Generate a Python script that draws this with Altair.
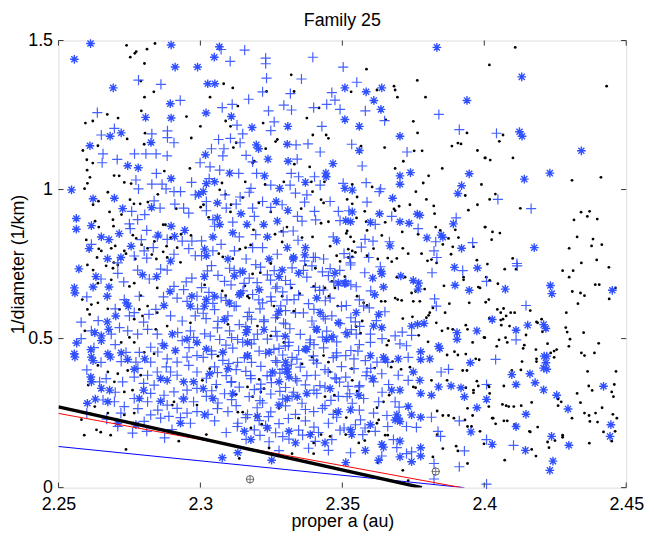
import altair as alt
import pandas as pd

TITLE = "Family 25"
X_LABEL = "proper a (au)"
Y_LABEL = "1/diameter (1/km)"
X_TICKS = [2.25, 2.3, 2.35, 2.4, 2.45]
Y_TICKS = [0, 0.5, 1, 1.5]
X_DOMAIN = [2.25, 2.45]
Y_DOMAIN = [0, 1.5]

# ---------------- black dots ----------------
dots_a_top = [(2.2740,1.484),(2.2774,1.463),(2.2769,1.457),(2.2753,1.444),(2.2812,1.471),(2.2840,1.490),(2.2803,1.423),
 (2.2790,1.364),(2.2836,1.328),(2.2803,1.310),(2.2792,1.264),(2.2951,1.245),(2.2672,1.252),(2.2710,1.240),(2.2621,1.230),
 (2.2595,1.223),(2.2805,1.189),(2.2742,1.170),(2.2968,1.173),(2.2802,1.152),(2.2639,1.147),(2.2586,1.131),(2.2600,1.100),
 (2.2621,1.089),(2.2601,1.065),(2.2611,1.041),(2.2602,1.021),(2.2592,1.003),(2.2696,1.047),(2.2714,1.046),(2.2732,1.024),
 (2.2756,1.020),(2.2873,1.062),(2.2963,1.071),(2.2674,0.991),(2.2641,0.961),(2.2622,0.949),(2.2752,0.966),(2.2766,0.952),
 (2.2788,0.952),(2.2815,0.958),(2.2850,0.984),(2.2915,0.936),(2.2680,0.925),(2.2692,0.899),(2.2722,0.916),(2.2629,0.894),
 (2.2642,0.874),(2.2694,0.877),(2.2869,0.882),(2.2877,0.882),(2.2762,0.847),(2.2598,0.831),(2.2642,0.801),(2.2651,0.794),
 (2.2686,0.803),(2.2700,0.811),(2.2732,0.794),(2.2738,0.785),(2.2774,0.836),(2.2793,0.815),(2.2838,0.826),(2.2881,0.810),
 (2.2869,0.791),(2.2845,0.767),(2.2883,0.772),(2.2930,0.756),(2.2895,0.839),(2.2932,0.850),(2.2918,0.805),(2.2967,0.846),
 (2.2636,0.772),(2.2695,0.755),(2.2771,0.767),(2.2829,0.782),(2.2814,0.803)]
dots_a_bottom = [(2.2602,0.747),(2.2622,0.730),(2.2668,0.744),(2.2692,0.736),(2.2709,0.747),(2.2686,0.697),(2.2750,0.675),
 (2.2639,0.686),(2.2584,0.631),(2.2616,0.614),(2.2639,0.620),(2.2674,0.600),(2.2602,0.598),(2.2610,0.581),(2.2767,0.686),
 (2.2790,0.644),(2.2848,0.670),(2.2814,0.609),(2.2785,0.598),(2.2796,0.576),(2.2848,0.587),(2.2715,0.598),(2.2767,0.565),
 (2.2593,0.526),(2.2721,0.487),(2.2767,0.487),(2.2802,0.454),(2.2837,0.449),(2.2750,0.504),(2.2843,0.531),(2.2639,0.410),
 (2.2674,0.388),(2.2709,0.382),(2.2744,0.393),(2.2790,0.377),(2.2697,0.355),(2.2761,0.327),(2.2732,0.321),(2.2605,0.344),
 (2.2628,0.272),(2.2674,0.250),(2.2732,0.244),(2.2767,0.250),(2.2901,0.277),(2.2907,0.288),(2.2581,0.228),(2.2591,0.176),
 (2.2634,0.194),(2.2649,0.186),(2.2684,0.176),(2.2738,0.128),(2.2924,0.156),(2.2988,0.277),(2.2965,0.553),(2.2883,0.542)]
dots_b_top = [(2.3320,1.385),(2.3233,1.329),(2.3330,1.329),(2.3082,1.355),(2.3114,1.341),(2.3034,1.310),(2.3132,1.280),
 (2.3418,1.274),(2.3375,1.240),(2.3089,1.230),(2.3106,1.212),(2.3221,1.223),(2.3000,1.212),(2.3396,1.183),(2.3443,1.183),
 (2.3451,1.172),(2.3271,1.168),(2.3265,1.161),(2.3126,1.157),(2.3116,1.141),(2.3230,1.137),(2.3190,1.095),(2.3184,1.089),
 (2.3331,1.085),(2.3385,1.076),(2.3158,1.026),(2.3228,1.017),(2.3294,1.026),(2.3391,1.026),(2.3437,1.026),(2.3076,1.022),
 (2.3068,0.999),(2.3089,0.984),(2.3149,0.973),(2.3206,0.955),(2.3395,0.993),(2.3425,0.966),(2.3434,0.955),(2.3011,0.949),
 (2.3001,0.941),(2.3108,0.949),(2.3106,0.925),(2.3029,0.907),(2.3248,0.925),(2.3355,0.936),(2.3425,0.887),(2.3451,0.892),
 (2.3305,0.874),(2.3187,0.865),(2.3263,0.850),(2.3286,0.860),(2.3395,0.841),(2.3288,0.824),(2.3457,0.810),(2.3139,0.800),
 (2.3159,0.805),(2.3177,0.814),(2.3065,0.785),(2.3079,0.774),(2.3114,0.768),(2.3248,0.752),(2.3480,0.778),(2.3492,0.759),
 (2.3358,0.839)]
dots_b_bottom = [(2.3184,0.717),(2.3211,0.721),(2.3157,0.677),(2.3166,0.642),(2.3172,0.636),(2.3089,0.644),(2.3077,0.660),
 (2.3015,0.680),(2.3370,0.747),(2.3405,0.736),(2.3321,0.670),(2.3350,0.651),(2.3399,0.675),(2.3439,0.670),(2.3463,0.692),
 (2.3474,0.670),(2.3484,0.609),(2.3453,0.642),(2.3288,0.642),(2.3259,0.609),(2.3329,0.592),(2.3271,0.570),(2.3201,0.542),
 (2.3097,0.548),(2.3248,0.509),(2.3294,0.487),(2.3405,0.526),(2.3434,0.443),(2.3410,0.426),(2.3451,0.421),(2.3393,0.438),
 (2.3358,0.415),(2.3457,0.388),(2.3062,0.441),(2.3033,0.399),(2.3007,0.360),(2.3056,0.338),(2.3166,0.338),(2.3207,0.363),
 (2.3224,0.332),(2.3184,0.305),(2.3213,0.321),(2.3126,0.313),(2.3149,0.253),(2.3195,0.239),(2.3216,0.213),(2.3178,0.200),
 (2.3277,0.266),(2.3346,0.233),(2.3391,0.183),(2.3425,0.178),(2.3439,0.305),(2.3472,0.310),(2.3474,0.255),(2.3457,0.172),
 (2.3399,0.150),(2.3242,0.133),(2.3323,0.114),(2.3399,0.114),(2.3137,0.098),(2.3021,0.178),(2.3132,0.253)]
dots_c_top = [(2.3585,1.404),(2.3764,1.366),(2.3682,1.347),(2.3686,1.334),(2.3622,1.334),(2.3531,1.328),(2.3694,1.310),
 (2.3793,1.310),(2.3653,1.234),(2.3750,1.229),(2.3765,1.190),(2.3939,1.190),(2.3566,1.146),(2.3649,1.141),(2.3753,1.130),
 (2.3781,1.130),(2.3886,1.146),(2.3907,1.156),(2.3918,1.153),(2.3976,1.131),(2.3715,1.095),(2.4002,1.106),(2.3686,1.071),
 (2.3852,1.071),(2.3804,1.046),(2.3785,1.022),(2.3605,1.009),(2.3535,1.017),(2.3759,0.993),(2.3552,0.975),(2.3517,0.967),
 (2.3933,0.980),(2.3535,0.952),(2.3990,1.017),(2.3700,0.944),(2.3738,0.949),(2.3796,0.967),(2.3682,0.935),(2.3686,0.929),
 (2.3579,0.927),(2.3822,0.945),(2.3825,0.919),(2.3976,0.949),(2.3944,0.931),(2.3550,0.905),(2.3651,0.890),(2.3584,0.892),
 (2.3517,0.861),(2.3514,0.853),(2.3529,0.841),(2.3587,0.863),(2.3639,0.846),(2.3711,0.858),(2.3767,0.850),(2.3829,0.874),
 (2.3845,0.863),(2.3898,0.865),(2.3909,0.839),(2.3874,0.836),(2.4002,0.874),(2.3541,0.825),(2.3521,0.800),(2.3535,0.794),
 (2.3546,0.789),(2.3610,0.802),(2.3587,0.778),(2.3521,0.772),(2.3535,0.774),(2.3625,0.767),(2.3660,0.770),(2.3674,0.758),
 (2.3713,0.803),(2.3692,0.769),(2.3732,0.785),(2.3779,0.785),(2.3800,0.761),(2.3814,0.765),(2.3854,0.816),(2.3883,0.783),
 (2.3889,0.808),(2.3962,0.808),(2.3974,0.763),(2.3832,0.754)]
dots_c_bottom = [(2.3509,0.708),(2.3692,0.706),(2.3721,0.706),(2.3758,0.658),(2.3744,0.653),(2.3790,0.666),(2.3686,0.636),
 (2.3695,0.631),(2.3651,0.625),(2.3637,0.625),(2.3709,0.628),(2.3750,0.625),(2.3773,0.625),(2.3552,0.642),(2.3575,0.620),
 (2.3587,0.611),(2.3858,0.677),(2.3927,0.706),(2.3927,0.697),(2.3979,0.673),(2.3985,0.670),(2.3819,0.603),(2.3808,0.587),
 (2.3804,0.578),(2.3877,0.617),(2.3947,0.620),(2.3862,0.587),(2.3713,0.567),(2.3747,0.573),(2.3796,0.570),(2.3831,0.553),
 (2.3851,0.526),(2.3872,0.534),(2.3889,0.531),(2.3935,0.545),(2.3941,0.531),(2.3999,0.504),(2.3570,0.559),(2.3549,0.540),
 (2.3564,0.518),(2.3663,0.493),(2.3657,0.478),(2.3769,0.511),(2.3802,0.489),(2.3959,0.487),(2.3869,0.445),(2.3895,0.456),
 (2.3907,0.445),(2.3935,0.448),(2.3970,0.432),(2.3982,0.429),(2.3677,0.423),(2.3672,0.404),(2.3707,0.397),(2.3738,0.404),
 (2.3533,0.399),(2.3614,0.401),(2.3924,0.393),(2.3939,0.393),(2.3974,0.357),(2.3979,0.341),(2.3869,0.360),(2.3814,0.360),
 (2.3750,0.338),(2.3758,0.335),(2.3935,0.335),(2.3962,0.327),(2.3962,0.318),(2.3535,0.360),(2.3552,0.324),(2.3665,0.310),
 (2.3622,0.268),(2.3645,0.288),(2.3834,0.257),(2.3854,0.242),(2.3874,0.242),(2.3893,0.233),(2.3941,0.266),(2.3932,0.227),
 (2.3959,0.242),(2.3985,0.189),(2.3941,0.205),(2.3955,0.205),(2.3628,0.227),(2.3622,0.216),(2.3593,0.189),(2.3651,0.176),
 (2.3660,0.176),(2.3579,0.158),(2.3558,0.150),(2.3834,0.178),(2.3854,0.131),(2.3901,0.139),(2.3907,0.123),(2.3999,0.147),
 (2.3941,0.081),(2.3625,0.084),(2.3713,0.058),(2.3732,0.023),(2.3819,0.103),(2.3512,0.178),(2.3514,0.235)]
dots_d_top = [(2.4109,1.477),(2.4018,1.418),(2.4431,1.347),(2.4066,1.183),(2.4053,1.162),(2.4004,1.106),(2.4021,1.099),
 (2.4101,1.106),(2.4309,1.031),(2.4411,1.041),(2.4039,0.985),(2.4019,0.967),(2.4127,0.937),(2.4341,0.924),(2.4371,0.927),
 (2.4363,0.910),(2.4316,0.898),(2.4398,0.901),(2.4004,0.874),(2.4029,0.858),(2.4055,0.854),(2.4026,0.832),(2.4327,0.841),
 (2.4383,0.834),(2.4299,0.803),(2.4378,0.811),(2.4414,0.815),(2.4100,0.769),(2.4396,0.764),(2.4342,0.754)]
dots_d_bottom = [(2.4072,0.733),(2.4112,0.733),(2.4276,0.728),(2.4313,0.728),(2.4299,0.706),(2.4439,0.739),(2.4391,0.681),
 (2.4405,0.681),(2.4462,0.670),(2.4440,0.633),(2.4310,0.658),(2.4339,0.653),(2.4353,0.644),(2.4330,0.617),(2.4289,0.587),
 (2.4007,0.706),(2.4019,0.695),(2.4048,0.684),(2.4005,0.622),(2.4016,0.631),(2.4046,0.598),(2.4058,0.587),(2.4077,0.576),
 (2.4093,0.587),(2.4107,0.587),(2.4068,0.601),(2.4058,0.562),(2.4066,0.565),(2.4060,0.545),(2.4089,0.542),(2.4018,0.569),
 (2.4162,0.594),(2.4184,0.556),(2.4188,0.553),(2.4202,0.565),(2.4205,0.523),(2.4147,0.512),(2.4141,0.478),(2.4137,0.467),
 (2.4223,0.483),(2.4182,0.463),(2.4184,0.432),(2.4184,0.423),(2.4246,0.458),(2.4255,0.463),(2.4234,0.452),(2.4246,0.437),
 (2.4287,0.537),(2.4292,0.522),(2.4350,0.520),(2.4302,0.498),(2.4298,0.474),(2.4403,0.484),(2.4388,0.452),(2.4342,0.452),
 (2.4353,0.443),(2.4052,0.496),(2.4075,0.503),(2.4081,0.487),(2.4044,0.474),(2.4002,0.503),(2.4133,0.423),(2.4097,0.393),
 (2.4129,0.395),(2.4364,0.390),(2.4464,0.390),(2.4458,0.346),(2.4449,0.321),(2.4455,0.305),(2.4368,0.341),(2.4380,0.326),
 (2.4327,0.316),(2.4339,0.285),(2.4260,0.297),(2.4271,0.288),(2.4260,0.275),(2.4014,0.344),(2.4017,0.338),(2.4069,0.341),
 (2.4019,0.316),(2.4016,0.272),(2.4064,0.279),(2.4077,0.275),(2.4086,0.272),(2.4104,0.272),(2.4130,0.275),(2.4167,0.286),
 (2.4028,0.233),(2.4031,0.233),(2.4040,0.214),(2.4069,0.224),(2.4081,0.224),(2.4107,0.211),(2.4159,0.189),(2.4162,0.187),
 (2.4188,0.203),(2.4223,0.153),(2.4249,0.158),(2.4276,0.176),(2.4276,0.169),(2.4228,0.134),(2.4309,0.233),(2.4353,0.250),
 (2.4369,0.242),(2.4392,0.250),(2.4372,0.222),(2.4399,0.220),(2.4415,0.268),(2.4453,0.246),(2.4467,0.233),(2.4420,0.187),
 (2.4449,0.156),(2.4461,0.189),(2.4370,0.149),(2.4167,0.128),(2.4182,0.106),(2.4072,0.092),(2.4011,0.750)]

# ---------------- blue plus markers ----------------
plus_a_top = [(2.2782,1.367),(2.2861,1.353),(2.2929,1.299),(2.2637,1.258),(2.2697,1.205),(2.2651,1.183),(2.2884,1.197),
 (2.2884,1.174),(2.2829,1.187),(2.2907,1.157),(2.2657,1.120),(2.2707,1.101),(2.2768,1.120),(2.2808,1.120),(2.2844,1.120),
 (2.2883,1.113),(2.2654,1.090),(2.2845,1.054),(2.2773,1.032),(2.2829,1.018),(2.2865,1.018),(2.2782,1.002),(2.2969,1.024),
 (2.2879,1.002),(2.2907,0.993),(2.2930,0.993),(2.2837,0.962),(2.2910,0.951),(2.2941,0.938),(2.2959,0.921),(2.2758,0.927),
 (2.2804,0.916),(2.2779,0.899),(2.2858,0.938),(2.2750,0.885),(2.2753,0.869),(2.2811,0.863),(2.2792,0.832),(2.2848,0.841),
 (2.2883,0.833),(2.2936,0.827),(2.2970,0.827),(2.2959,0.802),(2.2834,0.805),(2.2802,0.794),(2.2982,0.778),(2.2907,0.783),
 (2.2811,0.770),(2.2767,0.777),(2.2616,0.816),(2.2709,0.754),(2.2999,1.090),(2.2982,0.982)]
plus_a_bottom = [(2.2709,0.719),(2.2779,0.730),(2.2860,0.733),(2.2883,0.730),(2.2970,0.703),(2.2907,0.675),(2.2941,0.664),
 (2.2988,0.642),(2.2953,0.625),(2.2918,0.636),(2.2785,0.642),(2.2732,0.631),(2.2767,0.587),(2.2843,0.598),(2.2819,0.581),
 (2.2750,0.576),(2.2895,0.576),(2.2936,0.559),(2.2982,0.576),(2.2715,0.537),(2.2616,0.526),(2.2686,0.515),(2.2744,0.526),
 (2.2779,0.515),(2.2814,0.531),(2.2848,0.515),(2.2965,0.526),(2.2936,0.493),(2.2976,0.504),(2.2866,0.482),(2.2825,0.471),
 (2.2785,0.454),(2.2738,0.454),(2.2721,0.423),(2.2773,0.421),(2.2825,0.421),(2.2883,0.432),(2.2918,0.421),(2.2953,0.438),
 (2.2988,0.443),(2.2959,0.410),(2.2848,0.388),(2.2895,0.388),(2.2814,0.377),(2.2767,0.371),(2.2668,0.366),(2.2645,0.355),
 (2.2726,0.355),(2.2837,0.344),(2.2918,0.377),(2.2988,0.388),(2.2988,0.333),(2.2953,0.327),(2.2907,0.321),(2.2872,0.310),
 (2.2825,0.316),(2.2767,0.299),(2.2697,0.288),(2.2657,0.294),(2.2732,0.272),(2.2814,0.288),(2.2883,0.277),(2.2918,0.266),
 (2.2976,0.288),(2.2988,0.255),(2.2953,0.250),(2.2889,0.239),(2.2825,0.244),(2.2860,0.233),(2.2965,0.216),(2.2802,0.222),
 (2.2761,0.183),(2.2811,0.189),(2.2874,0.167),(2.2709,0.205),(2.2580,0.555),(2.2625,0.470),(2.2600,0.395)]
plus_a_extra = [(2.2650,0.700),(2.2730,0.690),(2.2820,0.700),(2.2950,0.690),(2.2600,0.640),(2.2700,0.600),(2.2870,0.640),
 (2.2990,0.600),(2.2640,0.560),(2.2800,0.555),(2.2920,0.520),(2.2580,0.500),(2.2700,0.480),(2.2850,0.455),(2.2960,0.470),
 (2.2650,0.420),(2.2780,0.400),(2.2880,0.405),(2.2700,0.320),(2.2800,0.350),(2.2940,0.300),(2.2850,0.260),(2.2720,0.250),
 (2.2930,0.235),(2.2600,0.250),(2.2670,0.230),(2.2780,0.265),(2.2900,0.195)]
plus_b_top = [(2.3073,1.470),(2.3156,1.468),(2.3105,1.430),(2.3230,1.441),(2.3230,1.422),(2.3396,1.444),(2.3233,1.374),
 (2.3356,1.371),(2.3219,1.328),(2.3317,1.322),(2.3170,1.303),(2.3463,1.325),(2.3474,1.300),(2.3077,1.275),(2.3112,1.286),
 (2.3294,1.283),(2.3321,1.267),(2.3240,1.264),(2.3399,1.275),(2.3445,1.286),(2.3492,1.269),(2.3129,1.216),(2.3260,1.227),
 (2.3428,1.212),(2.3248,1.198),(2.3149,1.187),(2.3106,1.172),(2.3140,1.157),(2.3064,1.168),(2.3083,1.137),(2.3337,1.150),
 (2.3379,1.153),(2.3422,1.126),(2.3079,1.113),(2.3039,1.137),(2.3161,1.115),(2.3184,1.093),(2.3341,1.102),(2.3034,1.076),
 (2.3068,1.065),(2.3135,1.054),(2.3198,1.054),(2.3320,1.054),(2.3346,1.043),(2.3402,1.043),(2.3031,1.037),(2.3178,1.004),
 (2.3248,1.015),(2.3316,1.015),(2.3422,1.015),(2.3375,0.982),(2.3172,0.991),(2.3087,0.982),(2.3140,0.975),(2.3335,0.988),
 (2.3457,0.960),(2.3021,0.960),(2.3126,0.951),(2.3219,0.960),(2.3367,0.958),(2.3288,0.949),(2.3021,0.929),(2.3091,0.938),
 (2.3184,0.938),(2.3248,0.940),(2.3402,0.927),(2.3342,0.910),(2.3486,0.927),(2.3190,0.910),(2.3406,0.898),(2.3492,0.896),
 (2.3358,0.894),(2.3044,0.899),(2.3114,0.891),(2.3050,0.877),(2.3327,0.861),(2.3292,0.858),(2.3195,0.849),(2.3137,0.841),
 (2.3073,0.816),(2.3004,0.828),(2.3468,0.841),(2.3184,0.805),(2.3219,0.805),(2.3120,0.794),(2.3044,0.794),(2.3271,0.783),
 (2.3344,0.830),(2.3405,0.772),(2.3434,0.767),(2.3367,0.761),(2.3161,0.767),(2.3004,0.778)]
plus_b_bottom = [(2.3039,0.745),(2.3103,0.736),(2.3195,0.748),(2.3323,0.737),(2.3393,0.744),(2.3457,0.735),
 (2.3062,0.712),(2.3172,0.703),(2.3236,0.714),(2.3375,0.706),(2.3451,0.711),
 (2.3004,0.671),(2.3108,0.680),(2.3265,0.669),(2.3317,0.682),(2.3405,0.672),(2.3486,0.679),
 (2.3073,0.637),(2.3184,0.648),(2.3248,0.640),(2.3346,0.646),(2.3457,0.636),
 (2.3044,0.618),(2.3126,0.609),(2.3219,0.620),(2.3283,0.610),(2.3381,0.617),(2.3497,0.608),
 (2.3010,0.585),(2.3097,0.576),(2.3172,0.588),(2.3271,0.579),(2.3335,0.586),(2.3463,0.576),
 (2.3062,0.558),(2.3137,0.547),(2.3224,0.557),(2.3300,0.549),(2.3393,0.559),(2.3492,0.550),
 (2.3015,0.516),(2.3103,0.526),(2.3201,0.515),(2.3265,0.524),(2.3352,0.514),(2.3445,0.525),
 (2.3068,0.497),(2.3149,0.488),(2.3236,0.498),(2.3312,0.487),(2.3387,0.496),(2.3480,0.489),
 (2.3039,0.459),(2.3114,0.468),(2.3207,0.458),(2.3277,0.467),(2.3346,0.460),(2.3434,0.469),
 (2.3010,0.437),(2.3079,0.427),(2.3155,0.436),(2.3265,0.426),(2.3323,0.437),(2.3399,0.428),(2.3468,0.436),
 (2.3050,0.405),(2.3126,0.396),(2.3213,0.407),(2.3288,0.397),(2.3352,0.404),(2.3439,0.396),(2.3497,0.406),
 (2.3021,0.367),(2.3091,0.376),(2.3178,0.366),(2.3248,0.375),(2.3335,0.366),(2.3405,0.377),(2.3474,0.368),
 (2.3056,0.346),(2.3137,0.337),(2.3213,0.347),(2.3300,0.336),(2.3370,0.345),(2.3439,0.337),
 (2.3021,0.306),(2.3085,0.315),(2.3172,0.305),(2.3248,0.314),(2.3323,0.306),(2.3410,0.316),(2.3486,0.306),
 (2.3062,0.284),(2.3126,0.275),(2.3219,0.284),(2.3300,0.274),(2.3358,0.283),(2.3439,0.275),
 (2.3027,0.246),(2.3097,0.255),(2.3166,0.245),(2.3248,0.254),(2.3335,0.246),(2.3399,0.255),(2.3468,0.246),
 (2.3050,0.224),(2.3132,0.216),(2.3207,0.225),(2.3277,0.215),(2.3370,0.224),(2.3451,0.216),
 (2.3091,0.185),(2.3190,0.194),(2.3265,0.184),(2.3346,0.193),(2.3416,0.185),(2.3492,0.193),
 (2.3161,0.162),(2.3242,0.154),(2.3312,0.163),(2.3405,0.155),(2.3463,0.161),
 (2.3277,0.124),(2.3381,0.132),(2.3451,0.125)]
plus_b_extra = [(2.3025,0.727),(2.3140,0.722),(2.3260,0.728),(2.3430,0.724),(2.3085,0.692),(2.3200,0.688),(2.3300,0.695),
 (2.3470,0.690),(2.3030,0.655),(2.3150,0.660),(2.3290,0.657),(2.3420,0.662),(2.3090,0.628),(2.3250,0.625),(2.3330,0.631),
 (2.3440,0.627),(2.3050,0.597),(2.3210,0.600),(2.3300,0.594),(2.3400,0.598),(2.3020,0.567),(2.3180,0.565),(2.3265,0.570),
 (2.3440,0.566),(2.3060,0.536),(2.3160,0.540),(2.3315,0.533),(2.3400,0.538),(2.3035,0.508),(2.3110,0.503),(2.3270,0.508),
 (2.3430,0.505),(2.3090,0.478),(2.3180,0.482),(2.3310,0.476),(2.3400,0.480),(2.3040,0.447),(2.3230,0.450),(2.3290,0.445),
 (2.3480,0.452),(2.3100,0.416),(2.3180,0.420),(2.3320,0.414),(2.3410,0.418),(2.3060,0.386),(2.3160,0.390),(2.3280,0.384),
 (2.3450,0.388),(2.3110,0.356),(2.3250,0.352),(2.3340,0.358),(2.3490,0.354),(2.3040,0.325),(2.3190,0.329),(2.3280,0.323),
 (2.3400,0.327),(2.3110,0.295),(2.3210,0.292),(2.3290,0.297),(2.3460,0.293),(2.3060,0.265),(2.3200,0.268),(2.3370,0.262),
 (2.3430,0.266),(2.3160,0.235),(2.3240,0.238),(2.3310,0.232),(2.3480,0.236),(2.3130,0.205),(2.3230,0.208),(2.3400,0.203),
 (2.3210,0.175),(2.3290,0.171),(2.3360,0.176),
 (2.3119,0.729),(2.3212,0.740),(2.3247,0.696),(2.3270,0.674),(2.3206,0.630),(2.3119,0.608),(2.3166,0.574),(2.3224,0.563),
 (2.3293,0.552),(2.3363,0.586),(2.3433,0.574),(2.3468,0.508),(2.3131,0.497),(2.3189,0.497),(2.3259,0.464),(2.3299,0.475),
 (2.3386,0.486),(2.3340,0.431),(2.3398,0.442),(2.3479,0.442),(2.3131,0.420),(2.3177,0.376),(2.3270,0.420),(2.3305,0.409),
 (2.3375,0.376),(2.3235,0.376),(2.3108,0.353),(2.3212,0.331),(2.3328,0.320),(2.3421,0.342),(2.3479,0.365),(2.3491,0.729),
 (2.3398,0.773),(2.3363,0.729),(2.3433,0.663),(2.3154,0.685),(2.3305,0.630)]
plus_c_top = [(2.3503,1.411),(2.3551,1.360),(2.3581,1.264),(2.3649,1.231),(2.3840,1.252),(2.3912,1.201),(2.3533,1.152),
 (2.3728,1.126),(2.3570,1.079),(2.3584,1.023),(2.3503,1.021),(2.3630,0.993),(2.3635,1.002),(2.3587,0.958),(2.3523,0.929),
 (2.3674,0.910),(2.3616,0.883),(2.3901,0.905),(2.3767,0.869),(2.3580,0.833),(2.3608,0.827),(2.3567,0.807),(2.3666,0.825),
 (2.3829,0.825),(2.3959,0.822),(2.3823,0.794),(2.3833,0.772),(2.3593,0.772),(2.3506,0.785),(2.3529,0.754)]
plus_c_bottom = [(2.3529,0.747),(2.3579,0.721),(2.3512,0.692),(2.3634,0.741),(2.3816,0.721),(2.3924,0.728),(2.3825,0.633),
 (2.3831,0.609),(2.3514,0.611),(2.3575,0.609),(2.3595,0.603),(2.3546,0.556),(2.3512,0.520),(2.3549,0.515),(2.3599,0.515),
 (2.3686,0.509),(2.3744,0.511),(2.3711,0.522),(2.3599,0.487),(2.3703,0.482),(2.3726,0.476),(2.3512,0.443),(2.3541,0.432),
 (2.3581,0.426),(2.3622,0.421),(2.3732,0.437),(2.3541,0.399),(2.3587,0.388),(2.3639,0.382),(2.3697,0.377),(2.3512,0.371),
 (2.3610,0.355),(2.3663,0.346),(2.3732,0.360),(2.3848,0.388),(2.3874,0.397),(2.3558,0.338),(2.3517,0.305),(2.3575,0.299),
 (2.3628,0.288),(2.3686,0.288),(2.3535,0.283),(2.3657,0.242),(2.3814,0.236),(2.3837,0.189),(2.3846,0.172),(2.3912,0.224),
 (2.3726,0.205),(2.3761,0.202),(2.3564,0.227),(2.3546,0.211),(2.3616,0.189),(2.3680,0.161),(2.3529,0.117),(2.3639,0.106),
 (2.3744,0.120),(2.3692,0.134),(2.3726,0.114),(2.3930,0.123),(2.3912,0.070),(2.3823,0.081),(2.3823,0.029),(2.3572,0.178),
 (2.3506,0.200),(2.3530,0.680),(2.3600,0.660),(2.3560,0.630),(2.3650,0.590),(2.3530,0.570),(2.3620,0.560),(2.3560,0.480),
 (2.3640,0.500),(2.3530,0.460),(2.3600,0.400),(2.3660,0.420),(2.3520,0.340),(2.3640,0.320),(2.3560,0.260),(2.3610,0.250),
 (2.3700,0.270),(2.3580,0.200),(2.3660,0.205),(2.3549,0.674),(2.3526,0.773),(2.3532,0.530),(2.3555,0.458),(2.3526,0.315),
 (2.3561,0.342),(2.3584,0.376),(2.3561,0.541)]
plus_d = [(2.4043,1.189),(2.4048,0.967),(2.4165,0.936),(2.4115,0.752),(2.4116,0.744),(2.4008,0.692),(2.4147,0.611),
 (2.4112,0.496),(2.4040,0.430),(2.4008,0.346),(2.4103,0.142),(2.4008,0.161),(2.4008,0.012)]

# ---------------- blue asterisk markers ----------------
star_a_top = [(2.2613,1.490),(2.2556,1.437),(2.2897,1.485),(2.2911,1.411),(2.2990,1.411),(2.2693,1.341),(2.2894,1.288),
 (2.2807,1.242),(2.2897,1.240),(2.2682,1.179),(2.2721,1.190),(2.2611,1.147),(2.2826,1.158),(2.2744,1.080),(2.2781,1.073),
 (2.2897,1.037),(2.2546,0.999),(2.2622,0.969),(2.2697,0.971),(2.2726,0.936),(2.2563,0.903),(2.2563,0.867),(2.2616,0.879),
 (2.2828,0.940),(2.2945,0.863),(2.2897,0.877),(2.2651,0.841),(2.2678,0.832),(2.2714,0.852),(2.2608,0.802),(2.2756,0.810),
 (2.2673,0.768),(2.2720,0.772),(2.2895,0.760),(2.2994,0.984),(2.2851,0.847),(2.2909,0.843)]
star_a_bottom = [(2.2572,0.734),(2.2632,0.708),(2.2556,0.670),(2.2558,0.653),(2.2622,0.673),(2.2678,0.673),(2.2672,0.642),
 (2.2739,0.620),(2.2746,0.609),(2.2796,0.714),(2.2846,0.708),(2.2893,0.658),(2.2965,0.609),(2.2970,0.642),(2.2872,0.611),
 (2.2702,0.576),(2.2672,0.556),(2.2677,0.531),(2.2651,0.509),(2.2651,0.493),(2.2628,0.520),(2.2564,0.485),(2.2556,0.449),
 (2.2558,0.438),(2.2614,0.463),(2.2616,0.438),(2.2622,0.426),(2.2674,0.449),(2.2683,0.438),(2.2721,0.452),(2.2744,0.430),
 (2.2767,0.397),(2.2804,0.432),(2.2901,0.515),(2.2912,0.460),(2.2872,0.476),(2.2953,0.498),(2.2988,0.487),(2.2614,0.371),
 (2.2616,0.355),(2.2651,0.333),(2.2680,0.327),(2.2800,0.327),(2.2860,0.366),(2.2883,0.360),(2.2941,0.355),(2.2976,0.355),
 (2.2785,0.299),(2.2860,0.290),(2.2941,0.297),(2.2630,0.297),(2.2602,0.283),(2.2674,0.288),(2.2930,0.216),(2.2709,0.216),
 (2.2773,0.211)]
star_b_top = [(2.3067,1.479),(2.3049,1.444),(2.3026,1.355),(2.3051,1.355),(2.3020,1.257),(2.3109,1.245),(2.3182,1.208),
 (2.3308,1.212),(2.3306,1.152),(2.3197,1.150),(2.3205,1.137),(2.3238,1.102),(2.3018,1.117),(2.3309,1.095),(2.3467,1.087),
 (2.3103,1.055),(2.3226,1.046),(2.3442,1.055),(2.3021,1.020),(2.3050,1.026),(2.3010,0.993),(2.3370,1.024),(2.3279,1.004),
 (2.3060,0.955),(2.3143,0.919),(2.3060,0.905),(2.3068,0.883),(2.3223,0.883),(2.3271,0.894),(2.3308,0.930),(2.3267,0.960),
 (2.3114,0.855),(2.3164,0.883),(2.3044,0.841),(2.3236,0.841),(2.3306,0.805),(2.3015,0.800),(2.3021,0.778),(2.3097,0.767),
 (2.3370,0.805),(2.3368,0.781),(2.3242,0.767),(2.3327,0.767),(2.3480,0.828),(2.3443,1.043)]
star_b_bottom = [(2.3014,0.708),(2.3021,0.631),(2.3015,0.609),(2.3050,0.642),(2.3137,0.647),(2.3120,0.710),(2.3149,0.725),
 (2.3207,0.664),(2.3288,0.730),(2.3277,0.708),(2.3346,0.719),(2.3410,0.636),(2.3422,0.587),(2.3474,0.719),(2.3486,0.686),
 (2.3085,0.564),(2.3161,0.520),(2.3166,0.487),(2.3079,0.454),(2.3021,0.465),(2.3166,0.443),(2.3242,0.454),(2.3300,0.421),
 (2.3306,0.388),(2.3312,0.371),(2.3370,0.465),(2.3410,0.531),(2.3463,0.504),(2.3486,0.553),(2.3033,0.382),(2.3097,0.399),
 (2.3254,0.388),(2.3277,0.355),(2.3010,0.332),(2.3044,0.299),(2.3114,0.316),(2.3341,0.305),(2.3375,0.316),(2.3306,0.299),
 (2.3277,0.277),(2.3457,0.332),(2.3486,0.255),(2.3015,0.244),(2.3155,0.189),(2.3178,0.161),(2.3236,0.200),(2.3312,0.189),
 (2.3335,0.150),(2.3387,0.178),(2.3439,0.150),(2.3132,0.117),(2.3077,0.100),(2.3251,0.092),(2.3201,0.239),
 (2.3142,0.652),(2.3276,0.591),(2.3299,0.508),(2.3166,0.530),(2.3375,0.464),(2.3410,0.530),(2.3305,0.398),(2.3166,0.442),
 (2.3328,0.773),(2.3224,0.530),(2.3508,0.685),(2.3444,0.497),(2.3102,0.619)]
star_c_top = [(2.3833,1.477),(2.3509,1.341),(2.3584,1.328),(2.3639,1.341),(2.3611,1.299),(2.3636,1.269),(2.3939,1.299),
 (2.3509,1.235),(2.3560,1.212),(2.3703,1.179),(2.3560,1.131),(2.3740,1.057),(2.3703,1.046),(2.3703,1.018),(2.3947,1.053),
 (2.3920,1.013),(2.3907,0.987),(2.3535,0.998),(2.3509,1.004),(2.3677,0.971),(2.3535,0.925),(2.3512,0.896),(2.3529,0.892),
 (2.3631,0.919),(2.3599,0.890),(2.3703,0.892),(2.3735,0.887),(2.3764,0.918),(2.3773,0.914),(2.3798,0.838),(2.3848,0.847),
 (2.3854,0.840),(2.3891,0.885),(2.3668,0.811),(2.3920,0.803)]
star_c_bottom = [(2.3637,0.725),(2.3639,0.717),(2.3607,0.703),(2.3645,0.673),(2.3706,0.710),(2.3750,0.695),(2.3769,0.686),
 (2.3767,0.666),(2.3895,0.739),(2.3976,0.737),(2.3897,0.679),(2.3947,0.662),(2.3512,0.686),(2.3614,0.647),(2.3549,0.587),
 (2.3628,0.581),(2.3610,0.542),(2.3639,0.537),(2.3744,0.542),(2.3765,0.548),(2.3788,0.551),(2.3904,0.520),(2.3904,0.498),
 (2.3974,0.526),(2.3517,0.515),(2.3839,0.474),(2.3843,0.467),(2.3776,0.456),(2.3776,0.430),(2.3808,0.432),(2.3645,0.437),
 (2.3651,0.430),(2.3697,0.432),(2.3599,0.443),(2.3750,0.388),(2.3773,0.360),(2.3951,0.419),(2.3883,0.341),(2.3839,0.338),
 (2.3918,0.335),(2.3930,0.305),(2.3974,0.268),(2.3607,0.366),(2.3674,0.327),(2.3703,0.327),(2.3776,0.316),(2.3814,0.310),
 (2.3558,0.310),(2.3529,0.261),(2.3732,0.272),(2.3692,0.244),(2.3697,0.233),(2.3703,0.222),(2.3686,0.227),(2.3744,0.244),
 (2.3776,0.236),(2.3953,0.187),(2.3529,0.194),(2.3533,0.178),(2.3599,0.211),(2.3639,0.145),(2.3645,0.136),(2.3581,0.125),
 (2.3703,0.156),(2.3703,0.103),(2.3776,0.134),(2.3776,0.106),(2.3744,0.087),(2.3512,0.084),(2.3628,0.092)]
star_d = [(2.4132,1.378),(2.4124,1.194),(2.4133,1.179),(2.4342,1.130),(2.4231,1.055),(2.4141,1.035),(2.4176,0.805),
 (2.4074,0.666),(2.4233,0.678),(2.4238,0.651),(2.4451,0.662),(2.4028,0.564),(2.4112,0.528),(2.4153,0.545),(2.4209,0.547),
 (2.4217,0.534),(2.4211,0.441),(2.4220,0.441),(2.4217,0.419),(2.4209,0.401),(2.4220,0.397),(2.4097,0.379),(2.4161,0.382),
 (2.4112,0.346),(2.4179,0.352),(2.4209,0.328),(2.4255,0.310),(2.4295,0.264),(2.4008,0.296),(2.4147,0.246),(2.4112,0.205),
 (2.4028,0.145),(2.4145,0.125),(2.4237,0.172),(2.4298,0.142),(2.4242,0.089),(2.4231,0.058),(2.4420,0.340),(2.4446,0.211),
 (2.4443,0.172)]

# circled objects (circle with plus inside)
circled = [(2.3175, 0.028), (2.3829, 0.054)]

# boundary lines: x and y of the two end points
black_line_x = [2.25, 2.378]
black_line_y = [0.271, 0.0]
red_line_x = [2.25, 2.392]
red_line_y = [0.249, 0.0]
blue_line_x = [2.25, 2.393]
blue_line_y = [0.138, 0.0]

BLUE = "#3050ff"
FONT = "Liberation Sans"
FS = 18
PLUS_PATH = "M-1,0L1,0M0,-1L0,1"
STAR_PATH = "M-1,0L1,0M0,-1L0,1M-0.7,-0.7L0.7,0.7M-0.7,0.7L0.7,-0.7"


def frame(pts):
    return pd.DataFrame(pts, columns=["x", "y"])


dots = frame(dots_a_top + dots_a_bottom + dots_b_top + dots_b_bottom + dots_c_top + dots_c_bottom
             + dots_d_top + dots_d_bottom)
plus = frame(plus_a_top + plus_a_bottom + plus_a_extra + plus_b_top + plus_b_bottom + plus_b_extra
             + plus_c_top + plus_c_bottom + plus_d)
stars = frame(star_a_top + star_a_bottom + star_b_top + star_b_bottom + star_c_top + star_c_bottom + star_d)
circ = frame(circled)

xs = alt.Scale(domain=X_DOMAIN, nice=False, zero=False)
ys = alt.Scale(domain=Y_DOMAIN, nice=False, zero=False)

x_axis = alt.Axis(values=X_TICKS, labelExpr="format(datum.value, '.2~f')", title=X_LABEL,
                  ticks=False, tickSize=0, domain=False, grid=False, labelFlush=False,
                  labelBaseline="alphabetic", labelPadding=22,
                  titleBaseline="alphabetic", titleY=39, titleAnchor="middle",
                  labelFontSize=FS, titleFontSize=FS, labelFont=FONT, titleFont=FONT,
                  titleFontWeight="normal", labelColor="black", titleColor="black")
y_axis = alt.Axis(values=Y_TICKS, labelExpr="format(datum.value, '.1~f')", title=Y_LABEL,
                  ticks=False, tickSize=0, domain=False, grid=False, labelFlush=False,
                  labelPadding=6, titlePadding=0.5,
                  labelFontSize=FS, titleFontSize=FS, labelFont=FONT, titleFont=FONT,
                  titleFontWeight="normal", labelColor="black", titleColor="black")

X = alt.X("x:Q", scale=xs, axis=x_axis)
Y = alt.Y("y:Q", scale=ys, axis=y_axis)

dot_layer = alt.Chart(dots).mark_circle(size=8, color="black", opacity=1).encode(x=X, y=Y)
plus_layer = alt.Chart(plus).mark_point(shape=PLUS_PATH, size=105, filled=False, color=BLUE,
                                        strokeWidth=1.2, opacity=0.9).encode(x=X, y=Y)
star_layer = alt.Chart(stars).mark_point(shape=STAR_PATH, size=78, filled=False, color=BLUE,
                                         strokeWidth=1.4, opacity=1).encode(x=X, y=Y)


def seg(xv, yv, color, width):
    d = pd.DataFrame({"x": xv, "y": yv})
    return alt.Chart(d).mark_line(color=color, strokeWidth=width, clip=True).encode(x=X, y=Y)


lines = [seg(blue_line_x, blue_line_y, "#0000ff", 1), seg(red_line_x, red_line_y, "#ff0000", 1),
         seg(black_line_x, black_line_y, "black", 3.5)]

circ_layer = alt.Chart(circ).mark_point(shape="circle", size=55, filled=False, color="#222",
                                        strokeWidth=1).encode(x=X, y=Y)
circ_plus = alt.Chart(circ).mark_point(shape=PLUS_PATH, size=64, filled=False, color="#444",
                                       strokeWidth=1).encode(x=X, y=Y)

# inward ticks on all four sides
TLX = 0.0018
TLY = 0.017
xt = pd.DataFrame({"x": X_TICKS})
yt = pd.DataFrame({"y": Y_TICKS})
tick_b = alt.Chart(xt).mark_rule(color="#333").encode(x=X, y=alt.datum(Y_DOMAIN[0]), y2=alt.datum(Y_DOMAIN[0] + TLY))
tick_t = alt.Chart(xt).mark_rule(color="#333").encode(x=X, y=alt.datum(Y_DOMAIN[1]), y2=alt.datum(Y_DOMAIN[1] - TLY))
tick_l = alt.Chart(yt).mark_rule(color="#333").encode(y=Y, x=alt.datum(X_DOMAIN[0]), x2=alt.datum(X_DOMAIN[0] + TLX))
tick_r = alt.Chart(yt).mark_rule(color="#333").encode(y=Y, x=alt.datum(X_DOMAIN[1]), x2=alt.datum(X_DOMAIN[1] - TLX))

chart = alt.layer(dot_layer, plus_layer, star_layer, *lines, circ_layer, circ_plus,
                  tick_b, tick_t, tick_l, tick_r).properties(
    width=574, height=452,
    title=alt.TitleParams(TITLE, font=FONT, fontSize=FS, fontWeight="normal", color="black",
                          anchor="middle", offset=2),
    autosize=alt.AutoSizeParams(type="none"),
    padding={"left": 51, "top": 30, "right": 20, "bottom": 44},
).configure_view(stroke="#333", strokeWidth=1).configure(background="white")

chart.save("out.html", embed_options={"renderer": "svg", "actions": False})
